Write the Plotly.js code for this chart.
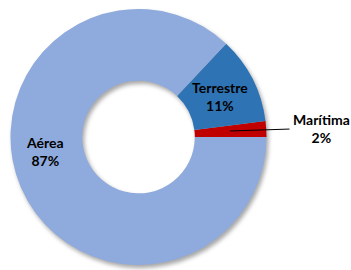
<!DOCTYPE html>
<html><head><meta charset="utf-8">
<script src="https://cdn.plot.ly/plotly-3.0.1.min.js"></script>
<style>
html,body{margin:0;padding:0;background:#fff}
#chart .pielayer{filter:drop-shadow(2px 3px 2px rgba(0,0,0,0.35))}
</style>
</head><body>
<div id="chart" style="width:351px;height:270px"></div>
<script>
var categories = ['Marítima', 'Terrestre', 'Aérea'];
var shares = [2, 11, 87];
var colors = ['#C00000', '#2E74B5', '#8FAADC'];

var W = 351, H = 270;
var cx = 138.5, cy = 137, R = 128;
var FONT = {family: 'Lato, "Open Sans", sans-serif', size: 14, color: '#000', weight: 'bold'};

var trace = {
  type: 'pie',
  labels: categories,
  values: shares,
  hole: 0.44,
  sort: false,
  direction: 'counterclockwise',
  rotation: 82.8,
  marker: {colors: colors, line: {width: 0}},
  textinfo: 'none',
  domain: {x: [(cx - R) / W, (cx + R) / W], y: [(H - cy - R) / H, (H - cy + R) / H]},
  showlegend: false,
  hoverinfo: 'none'
};

// label placement (pixel positions of label centres), in category order
var labelPlacement = [
  {x: 230, y: 131, ax: 91.5, ay: -3, arrow: true},  // Marítima: leader line from slice
  {x: 219.5, y: 96, arrow: false},                 // Terrestre
  {x: 44.5, y: 151, arrow: false}                  // Aérea
];
var annotations = categories.map(function (c, i) {
  var p = labelPlacement[i];
  var a = {
    xref: 'paper', yref: 'paper',
    x: p.x / W, y: 1 - p.y / H,
    text: c + '<br>' + shares[i] + '%',
    font: FONT,
    showarrow: p.arrow
  };
  if (p.arrow) {
    a.ax = p.ax; a.ay = p.ay;
    a.arrowhead = 0; a.arrowwidth = 1; a.arrowcolor = '#000';
    a.standoff = 0; a.startstandoff = 2;
  } else {
    a.xanchor = 'center'; a.yanchor = 'middle';
  }
  return a;
});

var layout = {
  width: W, height: H,
  margin: {l: 0, r: 0, t: 0, b: 0},
  paper_bgcolor: '#fff',
  showlegend: false,
  annotations: annotations
};
Plotly.newPlot('chart', [trace], layout, {displayModeBar: false, staticPlot: true});
</script>
</body></html>
